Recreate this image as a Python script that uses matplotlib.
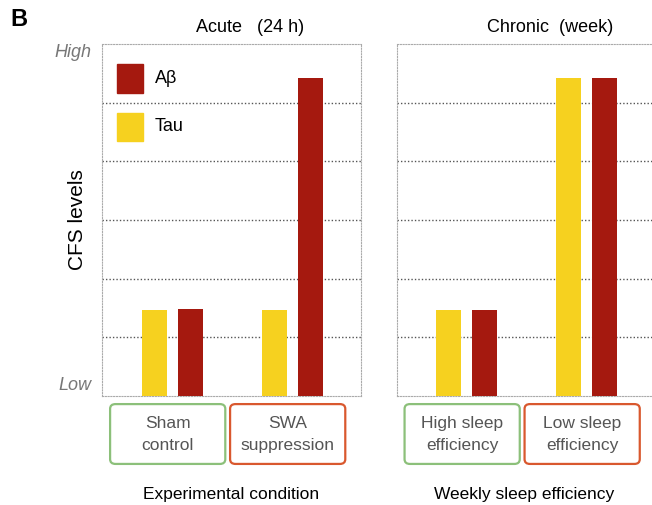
import matplotlib.pyplot as plt
import numpy as np
from matplotlib.patches import FancyBboxPatch

plt.rcParams['font.family'] = ['Liberation Sans', 'DejaVu Sans']

# values in arbitrary units (0 = Low, 6 = High)
acute_groups = ["Sham\ncontrol", "SWA\nsuppression"]
acute_tau = [1.47, 1.47]
acute_abeta = [1.48, 5.42]

chronic_groups = ["High sleep\nefficiency", "Low sleep\nefficiency"]
chronic_tau = [1.47, 5.42]
chronic_abeta = [1.47, 5.42]

box_colors = ["#8cc07a", "#d9582e"]
YELLOW = "#f6d11f"
RED = "#a5190f"

W, H = 652, 505
fig = plt.figure(figsize=(W / 100, H / 100), dpi=100)

def px_axes(x0, x1, y0, y1):
    return fig.add_axes([x0 / W, 1 - y1 / H, (x1 - x0) / W, (y1 - y0) / H])

ax1 = px_axes(102, 361, 44, 396)
ax2 = px_axes(397, 652, 44, 396)

def draw_panel(ax, groups, tau, abeta, xlim, title, title_x, xlabel, hide_right=False):
    x = np.arange(len(groups))
    ax.bar(x - 0.15, tau, width=0.208, color=YELLOW, zorder=3)
    ax.bar(x + 0.15, abeta, width=0.208, color=RED, zorder=3)
    ax.set_xlim(*xlim)
    ax.set_ylim(0, 6)
    ax.set_yticks([1, 2, 3, 4, 5])
    ax.yaxis.grid(True, linestyle=(0, (1, 1.5)), color="#555555", linewidth=1.0, zorder=1)
    ax.tick_params(left=False, bottom=False, labelleft=False, labelbottom=False)
    for name, sp in ax.spines.items():
        sp.set_linestyle((0, (1, 1.5)))
        sp.set_color("#aaaaaa")
        sp.set_linewidth(0.8)
    if hide_right:
        ax.spines["right"].set_visible(False)
    ax.text(title_x, 1.048, title, transform=ax.transAxes, ha="center",
            va="center", fontsize=13)
    # boxed category labels below the axis
    for i, label in enumerate(groups):
        cx = i - 0.04
        box = FancyBboxPatch((cx - 0.48, -0.193), 0.96, 0.17,
                             boxstyle="round,pad=0,rounding_size=0.045",
                             transform=ax.get_xaxis_transform(),
                             facecolor="white", edgecolor=box_colors[i],
                             linewidth=1.6, clip_on=False, mutation_aspect=0.3)
        ax.add_patch(box)
        ax.text(cx, -0.11, label, transform=ax.get_xaxis_transform(),
                ha="center", va="center", fontsize=12.5, color="#555555",
                linespacing=1.6)
    ax.text(0.5, -0.28, xlabel, transform=ax.transAxes, ha="center",
            va="center", fontsize=12.5)

draw_panel(ax1, acute_groups, acute_tau, acute_abeta, (-0.5875, 1.571),
           "Acute   (24 h)", 0.572, "Experimental condition")
draw_panel(ax2, chronic_groups, chronic_tau, chronic_abeta, (-0.583, 1.542),
           "Chronic  (week)", 0.6, "Weekly sleep efficiency", hide_right=True)

# legend drawn as squares inside left panel
ax1.add_patch(plt.Rectangle((0.058, 0.862), 0.1, 0.08, transform=ax1.transAxes,
                            color=RED, zorder=4))
ax1.text(0.205, 0.902, "Aβ", transform=ax1.transAxes, fontsize=13, va="center")
ax1.add_patch(plt.Rectangle((0.058, 0.725), 0.1, 0.08, transform=ax1.transAxes,
                            color=YELLOW, zorder=4))
ax1.text(0.205, 0.765, "Tau", transform=ax1.transAxes, fontsize=13, va="center")

ax1.text(-0.04, 0.975, "High", transform=ax1.transAxes, ha="right", va="center",
         fontsize=13, style="italic", color="#777777")
ax1.text(-0.04, 0.03, "Low", transform=ax1.transAxes, ha="right", va="center",
         fontsize=13, style="italic", color="#777777")
ax1.text(-0.095, 0.5, "CFS levels", transform=ax1.transAxes, rotation=90,
         ha="center", va="center", fontsize=15)

fig.text(10 / W, 1 - 19 / H, "B", fontsize=17, fontweight="bold", va="center")

fig.savefig("out.png", dpi=100)
